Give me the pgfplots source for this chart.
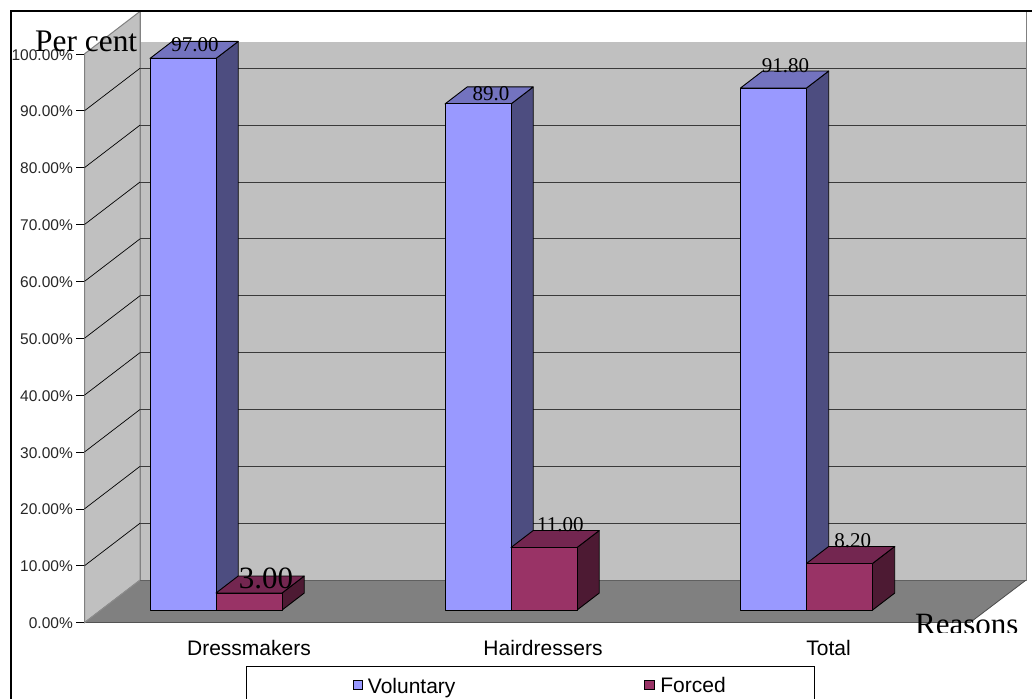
\documentclass[border=0pt]{standalone}
\usepackage{fontspec}
\setmainfont{Liberation Sans}
\newfontfamily\timesfont{Liberation Serif}
\usepackage{pgfplots}
\pgfplotsset{compat=1.18}

\definecolor{wallgray}{HTML}{C0C0C0}
\definecolor{floorgray}{HTML}{808080}
\definecolor{gridgray}{HTML}{3A3A3A}
\definecolor{volfront}{HTML}{9999FF}
\definecolor{voltop}{HTML}{7373BF}
\definecolor{volside}{HTML}{4D4D80}
\definecolor{forfront}{HTML}{993366}
\definecolor{fortop}{HTML}{732650}
\definecolor{forside}{HTML}{4D1A33}

% Depth of the chart box and of the bars, in axis units
% (x unit = 1pt, y unit = 5.687pt per per cent)
\def\boxdx{55.5}
\def\boxdy{7.47}
\def\bardx{22.2}
\def\bardy{2.99}
\def\barbase{2.2}
\def\barwidth{66}

% A bar as a cuboid: left edge, value, front/top/side colours
\newcommand{\cuboid}[5]{%
  \pgfmathsetmacro{\xa}{#1}%
  \pgfmathsetmacro{\xb}{#1+\barwidth}%
  \pgfmathsetmacro{\xc}{#1+\barwidth+\bardx}%
  \pgfmathsetmacro{\xd}{#1+\bardx}%
  \pgfmathsetmacro{\ya}{\barbase}%
  \pgfmathsetmacro{\yb}{\barbase+#2}%
  \pgfmathsetmacro{\yc}{\barbase+#2+\bardy}%
  \pgfmathsetmacro{\yd}{\barbase+\bardy}%
  \addplot[forget plot, draw=black, line width=0.9pt, line join=round, fill=#5]
    coordinates {(\xb,\ya) (\xc,\yd) (\xc,\yc) (\xb,\yb)} --cycle;
  \addplot[forget plot, draw=black, line width=0.9pt, line join=round, fill=#4]
    coordinates {(\xa,\yb) (\xb,\yb) (\xc,\yc) (\xd,\yc)} --cycle;
  \addplot[forget plot, draw=black, line width=0.9pt, line join=round, fill=#3]
    coordinates {(\xa,\ya) (\xb,\ya) (\xb,\yb) (\xa,\yb)} --cycle;
}
% Value label above a bar: x, y, text, font size
\newcommand{\barlabel}[4]{%
  \node[anchor=base, inner sep=0pt, font=\timesfont\fontsize{#4}{#4}\selectfont]
    at (axis cs:#1,#2) {#3};
}
% One gridline, running across the left wall and the back wall
\newcommand{\gridrun}[1]{%
  \pgfmathsetmacro{\yg}{#1+\boxdy}%
  \addplot[forget plot, draw=black, line width=0.7pt]
    coordinates {(84.5,#1) (140,\yg)};
  \addplot[forget plot, draw=gridgray, line width=0.9pt]
    coordinates {(140,\yg) (1026,\yg)};
}

\begin{document}
\begin{tikzpicture}[x=1pt,y=1pt]
\useasboundingbox (0,0) rectangle (1032,698);
\clip (0,0) rectangle (1032,698);

\begin{axis}[
  at={(84.5pt,75.4pt)}, anchor=south west,
  x=1pt, y=5.687pt,
  xmin=84.5, xmax=970, ymin=0, ymax=100,
  clip=false,
  scale only axis,
  axis x line*=bottom, axis y line*=left,
  axis line style={-},
  x axis line style={draw=black, line width=0.9pt},
  y axis line style={draw=floorgray!80!black, line width=1pt},
  ytick={0,10,...,100},
  yticklabels={0.00\%,10.00\%,20.00\%,30.00\%,40.00\%,50.00\%,60.00\%,70.00\%,80.00\%,90.00\%,100.00\%},
  yticklabel style={font=\fontsize{15.5}{15.5}\selectfont, color=black!85, inner sep=0pt, xshift=-3pt, yshift=-0.8pt},
  ytick style={draw=black, line width=0.7pt},
  y tick label style={anchor=east},
  major tick length=8.5pt,
  tick align=outside,
  xtick={249,543,828.5},
  xticklabels={Dressmakers,Hairdressers,Total},
  xtick style={draw=none},
  xticklabel style={font=\fontsize{21}{21}\selectfont, anchor=base, inner sep=0pt, yshift=-24pt},
  extra x ticks={84.5,380,675},
  extra x tick labels={},
  extra x tick style={major tick length=10pt, tick style={draw=black, line width=0.7pt}},
  ylabel={Per cent},
  ylabel style={at={(axis description cs:-0.0559,1.0035)}, rotate=-90, anchor=base west, inner sep=0pt,
    font=\timesfont\fontsize{31.4}{31.4}\selectfont},
  xlabel={Reasons},
  xlabel style={at={(axis description cs:0.9379,-0.0212)}, anchor=base west, inner sep=0pt,
    font=\timesfont\fontsize{31}{31}\selectfont},
  legend columns=2,
  legend cell align=left,
  legend style={
    at={(axis description cs:0.1824,-0.0758)}, anchor=north west,
    draw=black, line width=0.8pt, inner xsep=87pt, inner ysep=9pt,
    font=\fontsize{21}{21}\selectfont,
    /tikz/every even column/.append style={column sep=187pt},
  },
]
  % Walls and floor of the chart box
  \addplot[forget plot, draw=floorgray, line width=1pt, fill=white]
    coordinates {(140,7.47) (1026,7.47) (1026,107.47) (140,107.47)} --cycle;
  \addplot[forget plot, draw=none, fill=wallgray]
    coordinates {(140,7.47) (1026,7.47) (1026,102.09) (140,102.09)} --cycle;
  \addplot[forget plot, draw=floorgray, line width=1pt]
    coordinates {(140,7.47) (140,107.47)};
  \addplot[forget plot, draw=floorgray, line width=1pt]
    coordinates {(1026,7.47) (1026,107.47)};
  \addplot[forget plot, draw=floorgray, line width=1pt, fill=wallgray]
    coordinates {(84.5,0) (140,7.47) (140,107.47) (84.5,100)} --cycle;
  \addplot[forget plot, draw=none, fill=floorgray]
    coordinates {(84.5,0) (970,0) (1026,7.47) (140,7.47)} --cycle;
  \addplot[forget plot, draw=floorgray!75!black, line width=1.2pt]
    coordinates {(140,7.47) (1026,7.47)};
  \addplot[forget plot, draw=black!70, line width=0.8pt]
    coordinates {(970,0) (1026,7.47)};
  \addplot[forget plot, draw=floorgray!90, line width=0.8pt]
    coordinates {(84.5,0) (140,7.47)};

  \gridrun{10}\gridrun{20}\gridrun{30}\gridrun{40}\gridrun{50}
  \gridrun{60}\gridrun{70}\gridrun{80}\gridrun{90}

  % Voluntary and forced bars, group by group
  \cuboid{150}{97}{volfront}{voltop}{volside}
  \cuboid{216}{3}{forfront}{fortop}{forside}
  \cuboid{445}{89}{volfront}{voltop}{volside}
  \cuboid{511}{11}{forfront}{fortop}{forside}
  \cuboid{740.5}{91.8}{volfront}{voltop}{volside}
  \cuboid{806.5}{8.2}{forfront}{fortop}{forside}

  \barlabel{195}{100.4}{97.00}{21}
  \barlabel{491}{91.8}{89.0}{21}
  \barlabel{785.5}{96.7}{91.80}{21}
  \barlabel{266}{6.03}{3.00}{31}
  \barlabel{560.3}{16}{11.00}{21}
  \barlabel{852.8}{13.2}{8.20}{21}

  % Legend
  \addlegendimage{legend image code/.code={
    \path[draw=none] (-20pt,0pt) rectangle (12.5pt,0pt);
    \draw[draw=black, line width=0.8pt, fill=volfront] (0pt,-2.6pt) rectangle (9.4pt,6.6pt);}}
  \addlegendentry{\raisebox{1pt}{Voluntary}}
  \addlegendimage{legend image code/.code={
    \path[draw=none] (0pt,0pt) rectangle (13.5pt,0pt);
    \draw[draw=black, line width=0.8pt, fill=forfront] (0pt,-2.6pt) rectangle (9.4pt,6.6pt);}}
  \addlegendentry{\raisebox{2.7pt}{Forced}}
\end{axis}

% The axis title sits partly under the lower edge of the chart area
\fill[white] (905,698-632.7) rectangle (1030,698-642);
% Outer frame of the chart area
\draw[line width=2pt, line cap=rect] (11,-5) -- (11,687) -- (1040,687);
\end{tikzpicture}
\end{document}
